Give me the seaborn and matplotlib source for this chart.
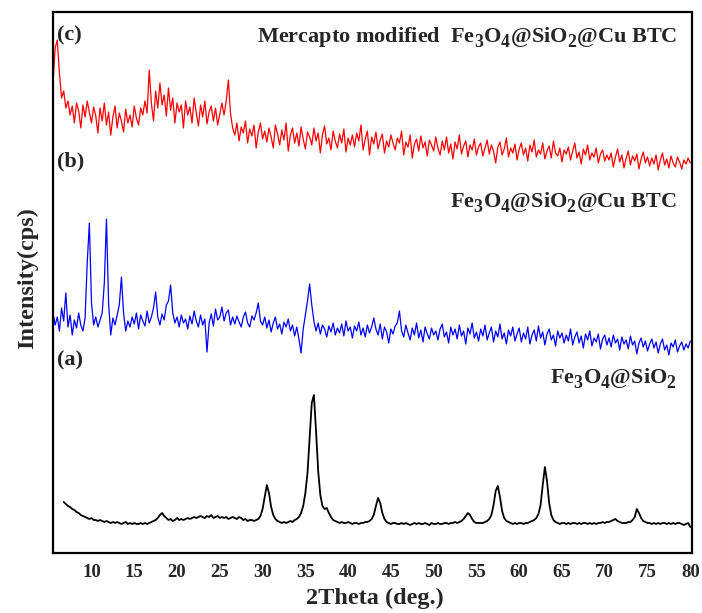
import numpy as np
import pandas as pd
import matplotlib
matplotlib.use("Agg")
import matplotlib.pyplot as plt
import matplotlib._mathtext as _mt
import seaborn as sns

# 2-theta sampling grid (deg), 0.25 deg step
two_theta = np.arange(5.5, 80.001, 0.25)

# (a) Fe3O4@SiO2 (black), NaN before scan start
int_a = [
    np.nan, np.nan, np.nan, np.nan, np.nan, 51, 49, 47, 46, 44, 43, 41, 40, 38, 37, 36, 35, 34, 35, 33,
    33, 32, 33, 32, 31, 32, 31, 30, 31, 30, 31, 30, 29, 30, 31, 29, 30, 29, 30, 29,
    29, 30, 29, 30, 29, 30, 31, 32, 33, 35, 38, 40, 37, 35, 33, 34, 32, 33, 35, 33,
    34, 33, 34, 35, 34, 35, 36, 35, 36, 37, 36, 35, 37, 36, 38, 35, 36, 37, 35, 36,
    35, 36, 34, 35, 36, 35, 34, 36, 35, 33, 34, 32, 33, 33, 32, 33, 34, 37, 44, 56,
    68, 60, 46, 38, 34, 32, 31, 30, 31, 30, 31, 32, 31, 33, 34, 36, 40, 47, 60, 80,
    115, 150, 158, 122, 82, 58, 47, 44, 45, 40, 36, 33, 32, 31, 30, 31, 30, 30, 31, 30,
    29, 30, 30, 29, 30, 30, 31, 31, 32, 34, 38, 47, 55, 50, 40, 34, 31, 30, 29, 30,
    30, 29, 29, 30, 29, 30, 29, 28, 29, 30, 29, 30, 29, 29, 30, 29, 28, 30, 29, 29,
    30, 29, 29, 30, 30, 29, 30, 30, 31, 30, 31, 32, 34, 37, 40, 38, 34, 31, 30, 30,
    30, 30, 31, 32, 34, 38, 48, 62, 67, 56, 42, 35, 32, 31, 30, 29, 30, 29, 30, 30,
    29, 30, 30, 31, 32, 33, 35, 39, 48, 68, 86, 72, 50, 38, 33, 31, 30, 29, 30, 30,
    29, 30, 29, 30, 30, 29, 30, 29, 30, 30, 29, 30, 29, 30, 29, 30, 30, 31, 30, 31,
    31, 32, 33, 34, 32, 31, 30, 30, 30, 31, 31, 33, 36, 44, 40, 35, 32, 31, 30, 30,
    29, 30, 29, 30, 29, 30, 30, 29, 30, 29, 30, 29, 30, 30, 29, 28, 29, 30, 26,
]

# (b) Fe3O4@SiO2@Cu BTC (blue)
int_b = [
    240, 228, 236, 222, 245, 232, 260, 226, 238, 218, 233, 225, 240, 228, 222, 235, 290, 330, 250, 228,
    236, 226, 233, 240, 270, 334, 250, 218, 235, 228, 238, 248, 276, 240, 222, 232, 226, 236, 229, 240,
    224, 238, 232, 227, 242, 230, 236, 245, 261, 236, 228, 239, 233, 248, 252, 268, 240, 230, 236, 226,
    238, 230, 234, 224, 237, 229, 242, 232, 226, 238, 228, 234, 201, 230, 239, 227, 244, 233, 236, 246,
    232, 240, 243, 228, 236, 229, 237, 231, 226, 236, 241, 230, 226, 237, 233, 240, 250, 232, 228, 236,
    225, 233, 221, 230, 236, 224, 229, 219, 231, 226, 234, 222, 228, 217, 226, 214, 200, 224, 238, 252,
    269, 248, 232, 222, 230, 219, 228, 224, 216, 227, 221, 230, 218, 225, 220, 229, 217, 232, 222, 226,
    215, 227, 222, 231, 218, 225, 216, 228, 220, 226, 235, 224, 218, 229, 214, 226, 221, 210, 224, 219,
    227, 230, 242, 222, 216, 228, 220, 213, 225, 218, 230, 215, 223, 211, 226, 219, 214, 225, 218, 222,
    213, 224, 229, 216, 221, 210, 226, 218, 224, 214, 228, 217, 222, 209, 225, 219, 230, 215, 221, 212,
    224, 217, 228, 213, 220, 226, 211, 222, 216, 229, 214, 220, 209, 223, 217, 226, 212, 219, 225, 211,
    220, 214, 226, 209, 218, 223, 212, 227, 215, 221, 208, 219, 224, 213, 218, 207, 222, 215, 220, 210,
    218, 212, 224, 208, 216, 221, 210, 217, 205, 219, 213, 222, 207, 215, 211, 219, 204, 214, 218, 208,
    215, 206, 218, 210, 214, 203, 216, 209, 213, 204, 217, 208, 212, 199, 210, 215, 206, 212, 202, 209,
    214, 205, 211, 200, 209, 214, 203, 208, 198, 210, 206, 213, 201, 207, 211, 203, 209, 205, 212,
]

# (c) Mercapto modified Fe3O4@SiO2@Cu BTC (red)
int_c = [
    470, 505, 513, 480, 455, 462, 445, 452, 438, 447, 430, 450, 442, 425, 448, 436, 452, 441, 430, 446,
    437, 420, 445, 432, 450, 428, 441, 418, 436, 447, 425, 440, 432, 421, 444, 430, 438, 426, 447, 435,
    428, 445, 438, 452, 440, 483, 450, 432, 462, 445, 470, 448, 458, 437, 465, 443, 455, 430, 450, 441,
    448, 425, 452, 438, 446, 430, 455, 440, 427, 448, 436, 452, 429, 441, 447, 432, 445, 428, 439, 450,
    438, 452, 473, 440, 425, 418, 430, 412, 426, 420, 432, 410, 424, 417, 428, 405, 421, 430, 414, 422,
    411, 425, 416, 405, 428, 419, 408, 423, 413, 430, 402, 418, 425, 410, 420, 407, 426, 414, 404, 421,
    416, 408, 425, 412, 420, 400, 418, 427, 409, 415, 403, 422, 412, 405, 419, 410, 424, 401, 415, 408,
    418, 406, 420, 412, 428, 403, 414, 422, 398, 416, 409, 421, 404, 413, 419, 400, 412, 406, 418, 410,
    403, 415, 410, 422, 398, 411, 406, 418, 395, 409, 414, 402, 417, 405, 411, 397, 413, 408, 402, 416,
    405, 398, 412, 403, 416, 400, 409, 394, 411, 404, 418, 399, 407, 412, 396, 408, 403, 414, 398, 406,
    410, 397, 405, 413, 399, 408, 402, 390, 406, 411, 398, 404, 415, 396, 405, 400, 409, 393, 404, 410,
    398, 405, 392, 408, 401, 413, 396, 403, 399, 410, 394, 402, 407, 395, 412, 400, 397, 405, 391, 403,
    399, 406, 393, 402, 410, 395, 401, 389, 404, 398, 408, 393, 400, 396, 405, 390, 399, 403, 392, 398,
    393, 400, 386, 396, 404, 391, 398, 385, 395, 402, 388, 397, 392, 399, 384, 394, 401, 390, 396, 387,
    395, 389, 398, 383, 393, 400, 388, 394, 385, 397, 390, 386, 396, 391, 384, 393, 389, 395, 390,
]

x_ticks = [10, 15, 20, 25, 30, 35, 40, 45, 50, 55, 60, 65, 70, 75, 80]

sns.set_style("white")
plt.rcParams['font.family'] = ['Liberation Serif', 'DejaVu Serif']
plt.rcParams['font.weight'] = 'bold'
plt.rcParams['mathtext.fontset'] = 'custom'
plt.rcParams['mathtext.rm'] = 'Liberation Serif:bold'
plt.rcParams['mathtext.it'] = 'Liberation Serif:bold'
plt.rcParams['mathtext.bf'] = 'Liberation Serif:bold'
# larger, lower subscripts, as in the reference
_mt.SHRINK_FACTOR = 0.8
_mt.FontConstantsBase.sub1 = 0.55
_mt.FontConstantsBase.sub2 = 0.65

fig = plt.figure(figsize=(7.02, 6.13), dpi=100)
ax = fig.add_axes([53/702, 60/613, 639/702, 541/613])

df = pd.DataFrame({"two_theta": two_theta, "a": int_a, "b": int_b, "c": int_c})
sns.lineplot(data=df, x="two_theta", y="a", ax=ax, color="black", linewidth=1.3)
sns.lineplot(data=df, x="two_theta", y="b", ax=ax, color="#0000ff", linewidth=0.9)
sns.lineplot(data=df, x="two_theta", y="c", ax=ax, color="#ff0000", linewidth=0.9)

ax.set_xlim(5.5, 80.2)
ax.set_ylim(0, 541)
ax.set_xticks(x_ticks)
ax.set_xticklabels([str(t) for t in x_ticks])
ax.set_yticks([])
ax.tick_params(axis='x', length=0, pad=8, labelsize=13.5)
for lab in ax.get_xticklabels():
    lab.set_fontweight('bold')
ax.set_xlabel("2Theta (deg.)", fontsize=17.5, fontweight='bold')
ax.set_ylabel("Intensity(cps)", fontsize=17.5, fontweight='bold')
ax.xaxis.set_label_coords(0.504, -0.064)
ax.yaxis.set_label_coords(-0.024, 0.508)
for sp in ax.spines.values():
    sp.set_visible(True)
    sp.set_color('black')
    sp.set_linewidth(1.6)

tfs = 16
ax.text(0.006, 0.956, "(c)", transform=ax.transAxes, fontsize=tfs, fontweight='bold', ha='left', va='center')
ax.text(0.006, 0.723, "(b)", transform=ax.transAxes, fontsize=tfs, fontweight='bold', ha='left', va='center')
ax.text(0.006, 0.355, "(a)", transform=ax.transAxes, fontsize=tfs, fontweight='bold', ha='left', va='center')
ax.text(0.977, 0.943, "Mercapto modified  Fe$_3$O$_4$@SiO$_2$@Cu BTC", transform=ax.transAxes,
        fontsize=tfs, fontweight='bold', ha='right', va='baseline')
ax.text(0.977, 0.638, "Fe$_3$O$_4$@SiO$_2$@Cu BTC", transform=ax.transAxes,
        fontsize=tfs, fontweight='bold', ha='right', va='baseline')
ax.text(0.977, 0.314, "Fe$_3$O$_4$@SiO$_2$", transform=ax.transAxes,
        fontsize=tfs, fontweight='bold', ha='right', va='baseline')

fig.savefig("out.png", dpi=100)
